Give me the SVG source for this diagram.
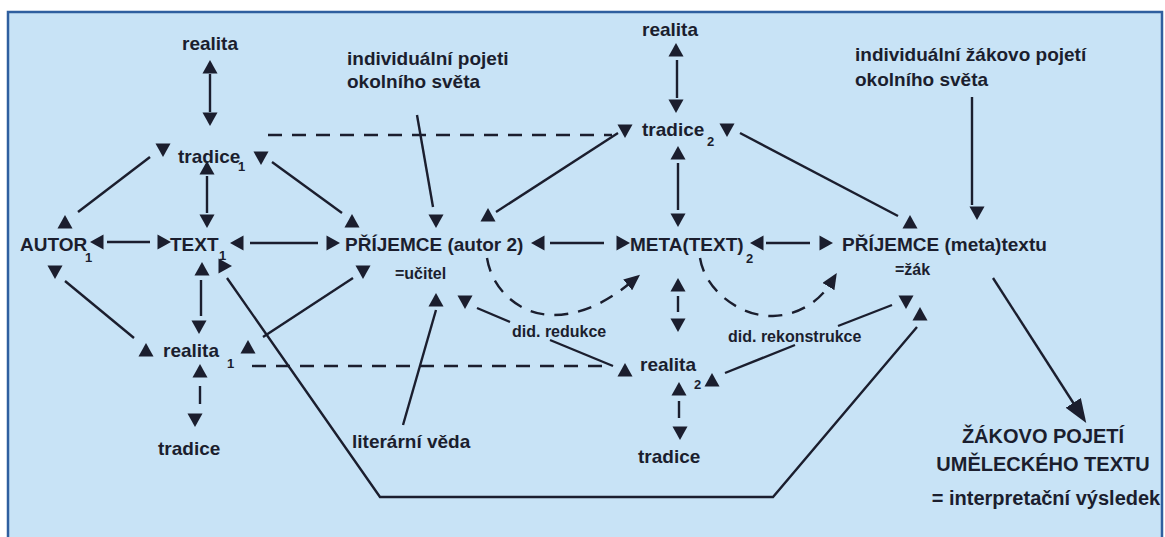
<svg xmlns="http://www.w3.org/2000/svg" xmlns:xlink="http://www.w3.org/1999/xlink" width="1165" height="537" viewBox="0 0 1165 537">
<style>
.t{font-family:"Liberation Sans",Arial,sans-serif;font-weight:bold;font-size:19px;fill:#1b1e2e}
.sm{font-size:16px}
.sub{font-size:13px}
.ln{stroke:#1b1e2e;stroke-width:2.4;fill:none}
.ds{stroke-dasharray:14 10}
.hd{fill:#1b1e2e}
</style>
<defs>
<path id="up" d="M0,-7 L7.5,6.5 L-7.5,6.5Z"/>
<path id="dn" d="M0,7 L7.5,-6.5 L-7.5,-6.5Z"/>
<path id="lt" d="M-7,0 L6.5,-7.5 L6.5,7.5Z"/>
<path id="rt" d="M7,0 L-6.5,-7.5 L-6.5,7.5Z"/>
<marker id="dh" markerUnits="userSpaceOnUse" markerWidth="16" markerHeight="14" viewBox="0 0 16 14" refX="3" refY="7" orient="auto"><path d="M0,0 L16,7 L0,14Z" fill="#1b1e2e"/></marker>
<marker id="big" markerUnits="userSpaceOnUse" markerWidth="24" markerHeight="18" viewBox="0 0 24 18" refX="18" refY="9" orient="auto"><path d="M0,0 L24,9 L0,18Z" fill="#1b1e2e"/></marker>
</defs>
<rect x="0" y="0" width="1165" height="537" fill="#ffffff"/>
<rect x="8" y="12" width="1154" height="540" fill="#c8e3f6" stroke="#2f5f9f" stroke-width="2.5"/>

<g id="connectors">
<g class="ln">
<line x1="210" y1="74" x2="210" y2="112"/>
<line x1="78" y1="212" x2="150" y2="157"/>
<line x1="272" y1="162" x2="342" y2="213"/>
<line x1="207" y1="176" x2="207" y2="213"/>
<line x1="107" y1="242" x2="150" y2="242"/>
<line x1="250" y1="243" x2="318" y2="243"/>
<line x1="550" y1="243" x2="604" y2="243"/>
<line x1="766" y1="243" x2="810" y2="243"/>
<line x1="65" y1="281" x2="134" y2="338"/>
<line x1="201" y1="280" x2="201" y2="316"/>
<line x1="263" y1="337" x2="353" y2="278"/>
<polyline points="227,278 380,497 773,497 917,327"/>
<line x1="417" y1="115" x2="433" y2="207"/>
<line x1="618" y1="133" x2="496" y2="212"/>
<line x1="677" y1="60" x2="677" y2="98"/>
<line x1="678" y1="163" x2="678" y2="210"/>
<line x1="403" y1="425" x2="436" y2="310"/>
<line x1="477" y1="308" x2="510" y2="322"/>
<line x1="550" y1="340" x2="613" y2="366"/>
<line x1="725" y1="373" x2="795" y2="345"/>
<line x1="838" y1="326" x2="892" y2="305"/>
<line x1="740" y1="133" x2="898" y2="216"/>
<line x1="972" y1="97" x2="972" y2="205"/>
<line x1="200" y1="386" x2="200" y2="404"/>
<line x1="678" y1="296" x2="678" y2="312"/>
<line x1="679" y1="401" x2="679" y2="418"/>
</g>
<g class="ln ds">
<line x1="268" y1="135" x2="612" y2="135"/>
<line x1="252" y1="366" x2="610" y2="366"/>
<path d="M487,258 C492,290 520,315 553,315 C585,315 612,298 630,283" marker-end="url(#dh)"/>
<path d="M700,258 C705,290 740,317 773,316 C803,315 822,297 830,284" marker-end="url(#dh)"/>
</g>
<line class="ln" x1="993" y1="278" x2="1083" y2="418" stroke-width="4.5" marker-end="url(#big)"/>
<g class="hd">
<use href="#up" x="210" y="67"/>
<use href="#dn" x="210" y="119"/>
<use href="#dn" x="163" y="150"/>
<use href="#dn" x="261" y="158"/>
<use href="#up" x="207" y="168"/>
<use href="#dn" x="207" y="221"/>
<use href="#up" x="65" y="222"/>
<use href="#up" x="352" y="221"/>
<use href="#lt" x="97" y="242"/>
<use href="#rt" x="164" y="242"/>
<use href="#lt" x="237" y="243"/>
<use href="#rt" x="333" y="243"/>
<use href="#lt" x="538" y="243"/>
<use href="#rt" x="623" y="243"/>
<use href="#lt" x="757" y="243"/>
<use href="#rt" x="826" y="243"/>
<use href="#dn" x="55" y="272"/>
<use href="#up" x="202" y="269"/>
<use href="#rt" x="225" y="266"/>
<use href="#dn" x="363" y="272"/>
<use href="#up" x="436" y="300"/>
<use href="#dn" x="465" y="302"/>
<use href="#dn" x="199" y="327"/>
<use href="#up" x="146" y="350"/>
<use href="#up" x="248" y="347"/>
<use href="#up" x="200" y="371"/>
<use href="#dn" x="195" y="420"/>
<use href="#dn" x="436" y="221"/>
<use href="#up" x="488" y="215"/>
<use href="#up" x="676" y="50"/>
<use href="#dn" x="676" y="106"/>
<use href="#dn" x="625" y="131"/>
<use href="#dn" x="727" y="130"/>
<use href="#up" x="678" y="153"/>
<use href="#dn" x="678" y="220"/>
<use href="#up" x="678" y="285"/>
<use href="#dn" x="678" y="325"/>
<use href="#up" x="625" y="370"/>
<use href="#up" x="712" y="380"/>
<use href="#up" x="679" y="389"/>
<use href="#dn" x="680" y="433"/>
<use href="#up" x="910" y="222"/>
<use href="#dn" x="977" y="213"/>
<use href="#dn" x="906" y="302"/>
<use href="#up" x="920" y="314"/>
</g>
</g>

<g id="realita-top-left" class="t"><text x="210" y="50" text-anchor="middle">realita</text></g>
<g id="tradice1" class="t"><text x="178" y="163">tradice</text><text class="sub" x="238" y="171">1</text></g>
<g id="individualni-pojeti" class="t"><text x="347" y="65">individuální pojeti</text><text x="347" y="88">okolního světa</text></g>
<g id="realita-top-mid" class="t"><text x="670" y="36" text-anchor="middle">realita</text></g>
<g id="tradice2" class="t"><text x="642" y="136">tradice</text><text class="sub" x="707" y="146">2</text></g>
<g id="individualni-zakovo" class="t"><text x="855" y="61">individuální žákovo pojetí</text><text x="855" y="86">okolního světa</text></g>
<g id="autor1" class="t"><text x="20" y="251">AUTOR</text><text class="sub" x="85" y="262">1</text></g>
<g id="text1" class="t"><text x="170" y="251">TEXT</text><text class="sub" x="219" y="260">1</text></g>
<g id="prijemce-autor2" class="t"><text x="345" y="251">PŘÍJEMCE (autor 2)</text><text class="sm" x="395" y="279">=učitel</text></g>
<g id="metatext" class="t"><text x="630" y="251">META(TEXT)</text><text class="sub" x="746" y="263">2</text></g>
<g id="prijemce-metatextu" class="t"><text x="842" y="251">PŘÍJEMCE (meta)textu</text><text class="sm" x="895" y="275">=žák</text></g>
<g id="did-redukce" class="t"><text class="sm" x="512" y="337">did. redukce</text></g>
<g id="did-rekonstrukce" class="t"><text class="sm" x="728" y="342">did. rekonstrukce</text></g>
<g id="realita1" class="t"><text x="163" y="357">realita</text><text class="sub" x="227" y="368">1</text></g>
<g id="realita2" class="t"><text x="640" y="371">realita</text><text class="sub" x="694" y="389">2</text></g>
<g id="tradice-bottom-left" class="t"><text x="158" y="455">tradice</text></g>
<g id="literarni-veda" class="t"><text x="352" y="448">literární věda</text></g>
<g id="tradice-bottom-mid" class="t"><text x="638" y="463">tradice</text></g>
<g id="vysledek" class="t"><text x="1043" y="443" text-anchor="middle" style="font-size:20px">ŽÁKOVO POJETÍ</text><text x="1043" y="471" text-anchor="middle" style="font-size:20px">UMĚLECKÉHO TEXTU</text><text x="1046" y="505" text-anchor="middle" style="font-size:20px">= interpretační výsledek</text></g>
</svg>
